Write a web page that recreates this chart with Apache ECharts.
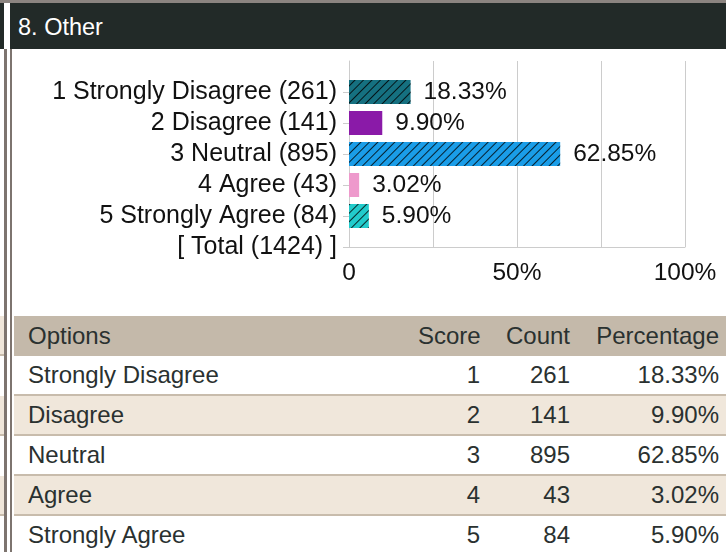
<!DOCTYPE html>
<html>
<head>
<meta charset="utf-8">
<script src="https://cdn.jsdelivr.net/npm/echarts@6/dist/echarts.min.js"></script>
<style>
  html, body { margin: 0; padding: 0; background: #fff; }
  body { width: 726px; height: 552px; position: relative; overflow: hidden; font-family: 'Liberation Sans', Arial, sans-serif; }
  .topline { position: absolute; left: 0; top: 0; width: 726px; height: 3px; background: #8b8480; }
  .side-dark { position: absolute; left: 0; top: 3px; width: 4px; height: 46px; background: #222a28; }
  .vline { position: absolute; top: 49px; height: 503px; background: #7d746f; }
  .head { position: absolute; left: 10px; top: 3px; width: 716px; height: 46px; background: #222a28; color: #fff; font-size: 23.5px; line-height: 48px; padding-left: 8px; box-sizing: border-box; }
  .side-row { position: absolute; left: 0; width: 4px; background: #efe6da; border-bottom: 2px solid #c8bcac; }
  #chart { position: absolute; left: 12px; top: 49px; width: 714px; height: 262px; }
  table { position: absolute; left: 14px; top: 316px; width: 712px; table-layout: fixed; border-collapse: collapse; font-size: 24px; color: #2a3130; }
  th, td { padding: 0 7px; font-weight: normal; white-space: nowrap; overflow: visible; }
  th { background: #c4b9aa; height: 40px; }
  td { height: 38px; border-bottom: 2px solid #c8bcac; }
  tr:nth-child(odd) td { background: #f0e7db; }
  .l { text-align: left; padding-left: 14px; }
  .r { text-align: right; }
</style>
</head>
<body>
<div class="topline"></div>
<div class="side-dark"></div>
<div class="vline" style="left:4px;width:3px"></div>
<div class="vline" style="left:10px;width:2px"></div>
<div class="side-row" style="top:316px;height:38px"></div>
<div class="side-row" style="top:396px;height:38px"></div>
<div class="side-row" style="top:476px;height:38px"></div>
<div class="head">8. Other</div>
<div id="chart"></div>
<table id="tbl">
  <colgroup><col style="width:397px"><col style="width:76px"><col style="width:90px"><col style="width:149px"></colgroup>
</table>
<script>
const options = ['Strongly Disagree', 'Disagree', 'Neutral', 'Agree', 'Strongly Agree']
const scores = [1, 2, 3, 4, 5]
const counts = [261, 141, 895, 43, 84]
const percents = [18.33, 9.90, 62.85, 3.02, 5.90]
const colors = ['#157080', '#8a1aa8', '#1a9de8', '#ee99cc', '#22cccc']
const hatched = [true, false, true, false, true]
const xTicks = { 0: '0', 50: '50%', 100: '100%' }

const total = counts.reduce((a, b) => a + b, 0)

// 分类: 顶部留一个空位, 底部是合计
const cats = [''].concat(options.map((o, i) => scores[i] + ' ' + o + ' (' + counts[i] + ')'), ['[ Total (' + total + ') ]'])

const hatch = {
  symbol: 'rect',
  symbolSize: 1,
  dashArrayX: [1, 0],
  dashArrayY: [1, 5],
  rotation: -Math.PI / 4,
  color: 'rgba(0,0,0,0.8)'
}

const barData = [null].concat(percents.map((p, i) => ({
  value: p,
  itemStyle: hatched[i] ? { color: colors[i], decal: hatch } : { color: colors[i] }
})), [null])

const myChart = echarts.init(document.getElementById('chart'))
myChart.setOption({
  animation: false,
  textStyle: { fontFamily: 'Liberation Sans, Arial, sans-serif' },
  grid: { left: 337, top: 12, width: 336, height: 186 },
  xAxis: {
    type: 'value',
    min: 0,
    max: 100,
    interval: 25,
    axisLine: { show: true, lineStyle: { color: '#cccccc' } },
    axisTick: { show: false },
    splitLine: { lineStyle: { color: '#cccccc' } },
    axisLabel: {
      fontSize: 24.5,
      color: '#111',
      margin: 14,
      formatter: v => xTicks[v] !== undefined ? xTicks[v] : ''
    }
  },
  yAxis: {
    type: 'category',
    data: cats,
    inverse: true,
    boundaryGap: false,
    axisLine: { lineStyle: { color: '#cccccc' } },
    axisTick: { length: 6, lineStyle: { color: '#cccccc' }, interval: i => i > 0 },
    axisLabel: { fontSize: 25, color: '#111', margin: 12, interval: 0 },
    splitLine: { show: false }
  },
  series: [{
    type: 'bar',
    data: barData,
    barWidth: 24,
    label: {
      show: true,
      position: 'right',
      distance: 13,
      fontSize: 24.5,
      color: '#111',
      formatter: p => p.value.toFixed(2) + '%'
    }
  }]
})

// 表格
const tbl = document.getElementById('tbl')
let html = '<tr><th class="l">Options</th><th class="r">Score</th><th class="r">Count</th><th class="r">Percentage</th></tr>'
options.forEach((o, i) => {
  html += '<tr><td class="l">' + o + '</td><td class="r">' + scores[i] + '</td><td class="r">' + counts[i] +
    '</td><td class="r">' + percents[i].toFixed(2) + '%</td></tr>'
})
tbl.insertAdjacentHTML('beforeend', html)
</script>
</body>
</html>
